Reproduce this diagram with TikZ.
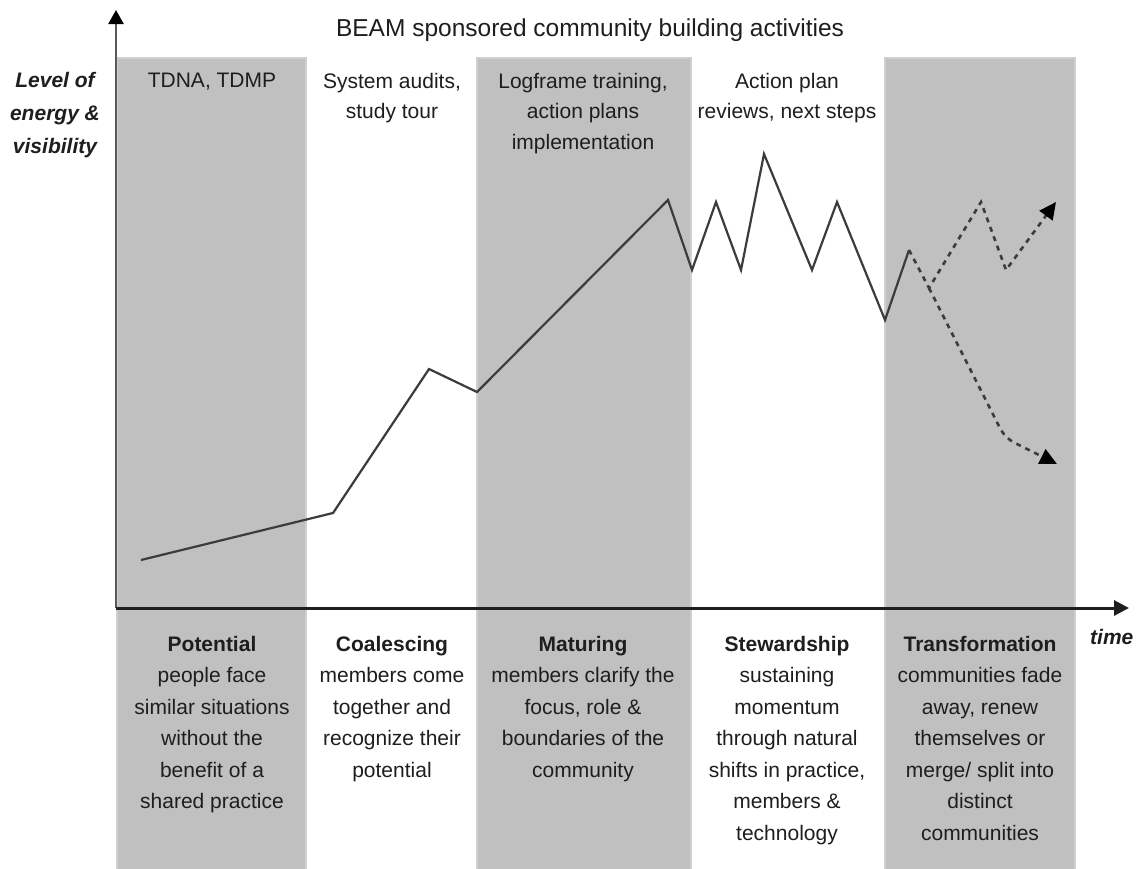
\documentclass[tikz,border=0pt]{standalone}
\usepackage{fontspec}
\setmainfont{Liberation Sans}
\usetikzlibrary{arrows.meta}
\definecolor{band}{HTML}{C0C0C0}
\definecolor{bandedge}{HTML}{D0D0D0}
\definecolor{curve}{HTML}{3C3C3C}
\definecolor{ink}{HTML}{1E1E1E}
\begin{document}
\begin{tikzpicture}[x=1pt,y=-1pt,
  bandbox/.style={fill=band, draw=bandedge, line width=2.5pt},
  lbl/.style={font=\fontsize{21}{31.5}\selectfont, align=center, inner sep=0pt, text=ink, anchor=north},
  axlbl/.style={font=\fontsize{21}{33}\selectfont\bfseries\itshape, align=center, inner sep=0pt, text=ink, anchor=north},
  curveline/.style={draw=curve, line width=2.2pt, line join=miter},
  dashcurve/.style={draw=curve, line width=2.6pt, dash pattern=on 5pt off 5pt},
  tipend/.style={-{Triangle[length=17pt,width=16pt,color=black]}},
  yaxisline/.style={draw=black!65, line width=2.5pt, -{Triangle[length=14pt,width=15pt,color=black]}},
  xaxisline/.style={draw=ink, line width=3pt, -{Triangle[length=15pt,width=15pt]}}]
\useasboundingbox (0,0) rectangle (1137,868);
\fill[white] (0,0) rectangle (1137,868);
% bands
\path[bandbox] (117,58) rectangle (306,872);
\path[bandbox] (477,58) rectangle (691,872);
\path[bandbox] (885,58) rectangle (1075,872);
% axes
\coordinate (O) at (116,608);
\coordinate (Ytop) at (116,10);
\coordinate (Xend) at (1129,608);
\draw[yaxisline] (O) -- (Ytop);
\draw[xaxisline] (O) -- (Xend);
% titles
\node[lbl, font=\fontsize{24.5}{29}\selectfont] (title) at (590,19) {BEAM sponsored community building activities};
\node[axlbl] (ylab) at (55,72) {Level of\\energy \&\\visibility};
\node[axlbl, anchor=west] (xlab) at (1090,637) {time};
% activities
\node[lbl, font=\fontsize{21}{30.5}\selectfont] (act1) at (212,73) {TDNA, TDMP};
\node[lbl, font=\fontsize{21}{30.5}\selectfont] (act2) at (392,73) {System audits,\\study tour};
\node[lbl, font=\fontsize{21}{30.5}\selectfont] (act3) at (583,73) {Logframe training,\\action plans\\implementation};
\node[lbl, font=\fontsize{21}{30.5}\selectfont] (act4) at (787,73) {Action plan\\reviews, next steps};
% phases
\node[lbl] (ph1) at (212,636) {\textbf{Potential}\\people face\\similar situations\\without the\\benefit of a\\shared practice};
\node[lbl] (ph2) at (392,636) {\textbf{Coalescing}\\members come\\together and\\recognize their\\potential};
\node[lbl] (ph3) at (583,636) {\textbf{Maturing}\\members clarify the\\focus, role \&\\boundaries of the\\community};
\node[lbl] (ph4) at (787,636) {\textbf{Stewardship}\\sustaining\\momentum\\through natural\\shifts in practice,\\members \&\\technology};
\node[lbl] (ph5) at (980,636) {\textbf{Transformation}\\communities fade\\away, renew\\themselves or\\merge/ split into\\distinct\\communities};
% curve points
\coordinate (p1) at (141,560);
\coordinate (p2) at (333,513);
\coordinate (p3) at (429,369);
\coordinate (p4) at (477,392);
\coordinate (p5) at (668,200);
\coordinate (p6) at (692,270);
\coordinate (p7) at (716,202);
\coordinate (p8) at (741,270);
\coordinate (p9) at (764,154);
\coordinate (p10) at (812,270);
\coordinate (p11) at (837,202);
\coordinate (p12) at (885,320);
\coordinate (p13) at (909,250);
\coordinate (d1) at (929,288);
\coordinate (d2) at (981,202);
\coordinate (d3) at (1006,270);
\coordinate (e1) at (1056,202);
\coordinate (d4) at (1005,438);
\coordinate (e2) at (1057,464);
\draw[curveline] (p1) -- (p2) -- (p3) -- (p4) -- (p5) -- (p6) -- (p7) -- (p8) -- (p9) -- (p10) -- (p11) -- (p12) -- (p13);
\draw[dashcurve, tipend] (p13) -- (d1) -- (d2) -- (d3) -- (e1);
\draw[dashcurve, tipend, rounded corners=10pt] (d1) -- (d4) -- (e2);
\end{tikzpicture}
\end{document}
